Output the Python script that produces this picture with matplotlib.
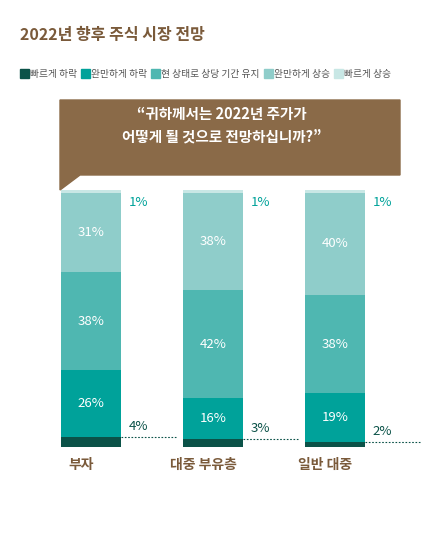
import matplotlib
matplotlib.use("Agg")
import matplotlib.pyplot as plt
import numpy as np
from matplotlib.patches import Polygon, Rectangle

plt.rcParams['font.family'] = ['Noto Sans CJK KR', 'DejaVu Sans']

categories = ["부자", "대중 부유층", "일반 대중"]
series = ["빠르게 하락", "완만하게 하락", "현 상태로 상당 기간 유지", "완만하게 상승", "빠르게 상승"]
values = {
    "빠르게 하락": [4, 3, 2],
    "완만하게 하락": [26, 16, 19],
    "현 상태로 상당 기간 유지": [38, 42, 38],
    "완만하게 상승": [31, 38, 40],
    "빠르게 상승": [1, 1, 1],
}
colors = ["#0b5248", "#00a29a", "#4fb7b1", "#8fcdca", "#c8e7e5"]
brown = "#8a6a48"
title_c = "#7a5a3a"

fig = plt.figure(figsize=(4.29, 5.39), dpi=100)
fig.patch.set_facecolor("white")

fig.text(20/429, 1-35/539, "2022년 향후 주식 시장 전망", fontsize=11.5, fontweight="bold",
         color=title_c, va="center")

# legend
lx = 20
for s, c in zip(series, colors):
    fig.patches.append(Rectangle((lx/429, 1-78/539), 9/429, 9/539, transform=fig.transFigure,
                                 color=c))
    t = fig.text((lx+10)/429, 1-74/539, s, fontsize=7, color="#555555", va="center")
    fig.canvas.draw()
    bb = t.get_window_extent()
    lx = bb.x1 + 4

# callout
pts = [(60, 100), (400, 100), (400, 175), (80, 175), (60, 190), (60, 175)]
fig.patches.append(Polygon([(x/429, 1-y/539) for x, y in pts], closed=True,
                           transform=fig.transFigure, color=brown))
fig.text(222/429, 1-125/539, "“귀하께서는 2022년 주가가\n어떻게 될 것으로 전망하십니까?”",
         fontsize=10.5, fontweight="bold", color="white", ha="center", va="center",
         linespacing=1.5)

ax = fig.add_axes([0, 92/539, 1, 257/539])
x = np.arange(len(categories))
xl = -91/122
ax.set_xlim(xl, xl + 429/122)
ax.set_ylim(0, 100)
ax.axis("off")
w = 60/122
bottom = np.zeros(3)
for i, (s, c) in enumerate(zip(series, colors)):
    v = np.array(values[s], dtype=float)
    ax.bar(x, v, w, bottom=bottom, color=c, linewidth=0)
    if 1 <= i <= 3:
        for xi, vi, bi in zip(x, v, bottom):
            ax.text(xi, bi + vi/2, f"{int(vi)}%", color="white", fontsize=9.5,
                    ha="center", va="center")
    bottom += v
for xi, v1, v5 in zip(x, values[series[0]], values[series[4]]):
    ax.plot([xi + w/2, xi + w/2 + 0.45], [v1, v1], ls=(0, (1.5, 1.5)), lw=0.8, color="#0b5248")
    ax.text(xi + w/2 + 0.06, v1 + 1.5, f"{v1}%", color="#0b5248", fontsize=9.5,
            ha="left", va="bottom")
    ax.text(xi + w/2 + 0.06, 95, f"{v5}%", color="#00a29a", fontsize=9.5,
            ha="left", va="center")
for xi, c in zip(x, categories):
    ax.text(xi - 0.08, -7, c, color=title_c, fontsize=10, fontweight="bold",
            ha="center", va="center")

fig.savefig("out.png", dpi=100, facecolor="white")
